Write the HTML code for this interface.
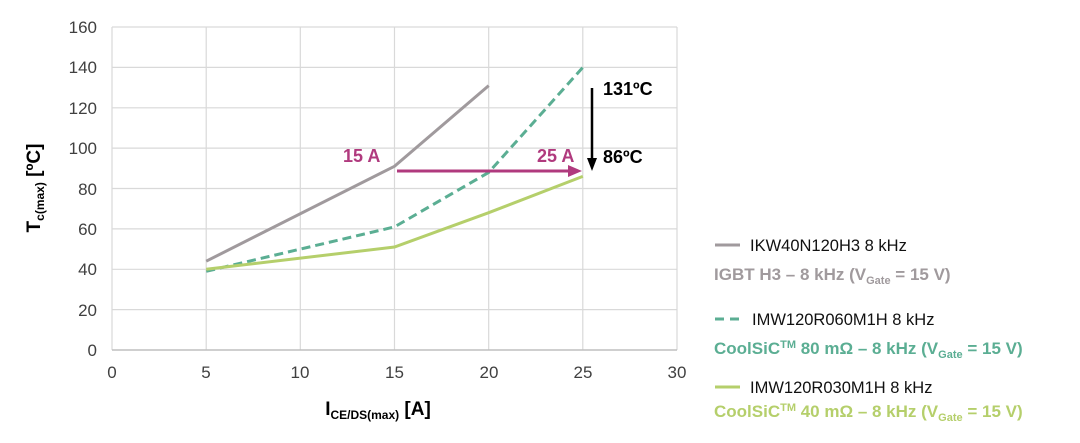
<!DOCTYPE html>
<html><head><style>body{margin:0;background:#fff}svg{display:block}</style></head><body>
<svg width="1080" height="443" xmlns="http://www.w3.org/2000/svg" font-family="Liberation Sans, Arial, sans-serif">
<rect width="1080" height="443" fill="#fff"/>
<g stroke="#d9d9d9" stroke-width="1.2">
<line x1="112" y1="27" x2="677" y2="27"/><line x1="112" y1="67.4" x2="677" y2="67.4"/><line x1="112" y1="107.8" x2="677" y2="107.8"/><line x1="112" y1="148.1" x2="677" y2="148.1"/><line x1="112" y1="188.5" x2="677" y2="188.5"/><line x1="112" y1="228.9" x2="677" y2="228.9"/><line x1="112" y1="269.3" x2="677" y2="269.3"/><line x1="112" y1="309.6" x2="677" y2="309.6"/>
<line x1="112" y1="27" x2="112" y2="350"/><line x1="206.2" y1="27" x2="206.2" y2="350"/><line x1="300.3" y1="27" x2="300.3" y2="350"/><line x1="394.5" y1="27" x2="394.5" y2="350"/><line x1="488.7" y1="27" x2="488.7" y2="350"/><line x1="582.8" y1="27" x2="582.8" y2="350"/><line x1="677" y1="27" x2="677" y2="350"/>
</g>
<line x1="112" y1="350" x2="677" y2="350" stroke="#bfbfbf" stroke-width="1.5"/>
<g font-size="17" fill="#404040" text-anchor="end">
<text x="97" y="33">160</text><text x="97" y="73">140</text><text x="97" y="114">120</text><text x="97" y="154">100</text><text x="97" y="195">80</text><text x="97" y="235">60</text><text x="97" y="275">40</text><text x="97" y="316">20</text><text x="97" y="356">0</text>
</g>
<g font-size="17" fill="#404040" text-anchor="middle">
<text x="112" y="378">0</text><text x="206" y="378">5</text><text x="300" y="378">10</text><text x="394.5" y="378">15</text><text x="489" y="378">20</text><text x="583" y="378">25</text><text x="677" y="378">30</text>
</g>
<text x="378" y="415" font-size="19" font-weight="bold" text-anchor="middle" fill="#000">I<tspan font-size="12" dy="4">CE/DS(max)</tspan><tspan dy="-4"> [A]</tspan></text>
<text transform="translate(40,188) rotate(-90)" font-size="19" font-weight="bold" text-anchor="middle" fill="#000">T<tspan font-size="12" dy="4">c(max)</tspan><tspan dy="-4"> [ºC]</tspan></text>
<polyline points="206.2,261.2 394.5,166.3 488.7,85.6" fill="none" stroke="#a09a9d" stroke-width="3"/>
<polyline points="206.2,271.3 394.5,226.9 488.7,172.4 582.8,67.4" fill="none" stroke="#5bae93" stroke-width="3" stroke-dasharray="9,5"/>
<polyline points="206.2,269.3 394.5,247 488.7,212.7 582.8,176.4" fill="none" stroke="#b5cf6b" stroke-width="3"/>
<line x1="397" y1="171" x2="570" y2="171" stroke="#b03a7e" stroke-width="3"/>
<polygon points="568,165 582,171 568,177" fill="#b03a7e"/>
<text x="343" y="162" font-size="18" font-weight="bold" fill="#b03a7e">15 A</text>
<text x="537" y="162" font-size="18" font-weight="bold" fill="#b03a7e">25 A</text>
<line x1="592" y1="88" x2="592" y2="160" stroke="#000" stroke-width="2.5"/>
<polygon points="587,158 597,158 592,171" fill="#000"/>
<text x="603" y="95" font-size="18" font-weight="bold" fill="#000">131ºC</text>
<text x="603" y="163" font-size="18" font-weight="bold" fill="#000">86ºC</text>
<line x1="715" y1="245" x2="740" y2="245" stroke="#a09a9d" stroke-width="3"/>
<text x="750" y="251" font-size="16.5" fill="#111">IKW40N120H3 8 kHz</text>
<text x="714" y="280" font-size="17" font-weight="bold" fill="#a09a9d">IGBT H3 – 8 kHz (V<tspan font-size="11" dy="4">Gate</tspan><tspan dy="-4"> = 15 V)</tspan></text>
<line x1="715" y1="319" x2="741" y2="319" stroke="#5bae93" stroke-width="3" stroke-dasharray="9,6"/>
<text x="752" y="325" font-size="16.5" fill="#111">IMW120R060M1H 8 kHz</text>
<text x="714" y="354" font-size="17" font-weight="bold" fill="#5bae93">CoolSiC<tspan font-size="11" dy="-6">TM</tspan><tspan dy="6"> 80 mΩ – 8 kHz (V</tspan><tspan font-size="11" dy="4">Gate</tspan><tspan dy="-4"> = 15 V)</tspan></text>
<line x1="715" y1="387" x2="740" y2="387" stroke="#b5cf6b" stroke-width="3"/>
<text x="750" y="393" font-size="16.5" fill="#111">IMW120R030M1H 8 kHz</text>
<text x="714" y="417" font-size="17" font-weight="bold" fill="#b5cf6b">CoolSiC<tspan font-size="11" dy="-6">TM</tspan><tspan dy="6"> 40 mΩ – 8 kHz (V</tspan><tspan font-size="11" dy="4">Gate</tspan><tspan dy="-4"> = 15 V)</tspan></text>
</svg>
</body></html>
